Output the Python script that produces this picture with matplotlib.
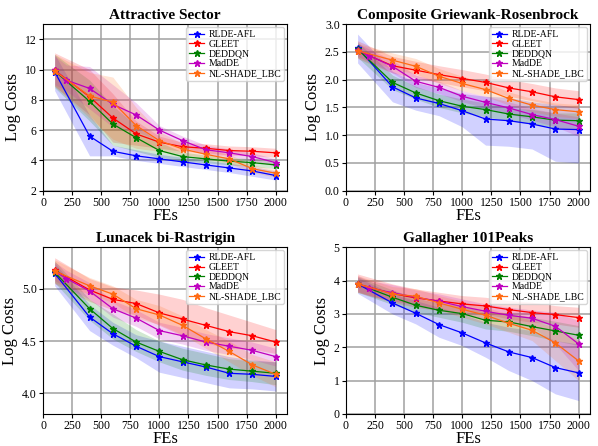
import matplotlib

matplotlib.use('Agg')
import matplotlib.pyplot as plt

plt.rcParams['font.family'] = ['Liberation Serif', 'DejaVu Serif']
plt.rcParams['mathtext.fontset'] = 'stix'

METHODS = ['RLDE-AFL', 'GLEET', 'DEDDQN', 'MadDE', 'NL-SHADE_LBC']
COLORS = ['blue', 'red', 'green', 'm', '#ff6a13']
FES = [100, 400, 600, 800, 1000, 1200, 1400, 1600, 1800, 2000]
FES_MAD = [100, 200, 400, 600, 800, 1000, 1200, 1400, 1600, 1800, 2000]  # MadDE logs one extra point

# --- Attractive Sector -------------------------------------------------------
as_mean = [
    [9.85, 5.6, 4.6, 4.3, 4.1, 3.9, 3.7, 3.5, 3.3, 3.0],
    [9.95, 8.2, 6.8, 5.75, 5.2, 4.9, 4.8, 4.65, 4.6, 4.5],
    [9.9, 7.9, 6.4, 5.5, 4.65, 4.25, 4.1, 3.95, 3.85, 3.7],
    [9.95, 9.3, 8.75, 7.7, 7.0, 6.0, 5.3, 4.7, 4.5, 4.25, 3.85],
    [9.9, 8.25, 7.85, 6.3, 5.3, 4.75, 4.4, 4.1, 3.45, 3.15],
]
as_lo = [
    [8.6, 4.3, 4.3, 4.0, 3.8, 3.6, 3.4, 3.2, 2.95, 2.7],
    [8.9, 7.0, 5.2, 5.0, 4.8, 4.6, 4.5, 4.35, 4.3, 4.2],
    [8.8, 6.6, 5.0, 4.6, 4.2, 3.95, 3.85, 3.7, 3.6, 3.45],
    [9.0, 8.6, 7.4, 6.2, 5.9, 5.3, 4.9, 4.4, 4.25, 4.0, 3.6],
    [8.9, 6.8, 5.4, 4.8, 4.6, 4.4, 4.1, 3.8, 3.2, 2.9],
]
as_hi = [
    [11.0, 7.0, 5.0, 4.7, 4.4, 4.2, 4.0, 3.8, 3.6, 3.3],
    [11.1, 10.0, 8.4, 6.6, 5.6, 5.2, 5.1, 4.95, 4.9, 4.8],
    [11.0, 9.3, 7.6, 6.3, 5.2, 4.55, 4.35, 4.2, 4.1, 3.95],
    [10.9, 10.3, 10.2, 9.0, 7.8, 6.3, 5.6, 5.0, 4.75, 4.5, 4.1],
    [11.0, 9.8, 9.5, 7.5, 5.9, 5.1, 4.7, 4.4, 3.7, 3.4],
]

# --- Composite Griewank-Rosenbrock -------------------------------------------
cg_mean = [
    [2.57, 1.87, 1.67, 1.57, 1.44, 1.29, 1.26, 1.20, 1.11, 1.10],
    [2.52, 2.25, 2.17, 2.09, 2.02, 1.95, 1.85, 1.78, 1.69, 1.64],
    [2.55, 1.95, 1.76, 1.62, 1.52, 1.46, 1.38, 1.33, 1.27, 1.26],
    [2.53, 2.43, 2.24, 1.97, 1.86, 1.70, 1.59, 1.49, 1.37, 1.28, 1.16],
    [2.52, 2.35, 2.24, 2.06, 1.93, 1.82, 1.66, 1.54, 1.46, 1.42],
]
cg_lo = [
    [2.30, 1.60, 1.45, 1.35, 1.15, 0.82, 0.80, 0.75, 0.53, 0.50],
    [2.38, 2.12, 2.03, 1.95, 1.87, 1.80, 1.70, 1.62, 1.54, 1.48],
    [2.40, 1.82, 1.65, 1.50, 1.40, 1.33, 1.26, 1.20, 1.13, 1.10],
    [2.42, 2.33, 2.12, 1.86, 1.75, 1.60, 1.49, 1.39, 1.27, 1.15, 0.98],
    [2.40, 2.20, 2.10, 1.93, 1.80, 1.70, 1.54, 1.42, 1.34, 1.30],
]
cg_hi = [
    [2.82, 2.15, 1.95, 1.85, 1.75, 1.70, 1.68, 1.60, 1.55, 1.50],
    [2.70, 2.42, 2.33, 2.25, 2.18, 2.10, 2.00, 1.93, 1.85, 1.80],
    [2.68, 2.08, 1.88, 1.74, 1.65, 1.58, 1.50, 1.46, 1.40, 1.40],
    [2.65, 2.55, 2.35, 2.08, 1.97, 1.80, 1.70, 1.60, 1.48, 1.40, 1.33],
    [2.65, 2.48, 2.38, 2.20, 2.06, 1.95, 1.78, 1.66, 1.58, 1.55],
]

# --- Lunacek bi-Rastrigin ----------------------------------------------------
lb_mean = [
    [5.15, 4.73, 4.57, 4.45, 4.35, 4.30, 4.25, 4.19, 4.18, 4.16],
    [5.18, 4.99, 4.90, 4.86, 4.77, 4.71, 4.65, 4.59, 4.55, 4.49],
    [5.16, 4.81, 4.62, 4.49, 4.40, 4.32, 4.27, 4.23, 4.21, 4.19],
    [5.17, 5.10, 4.98, 4.81, 4.72, 4.60, 4.55, 4.49, 4.45, 4.41, 4.35],
    [5.17, 5.03, 4.95, 4.81, 4.75, 4.65, 4.52, 4.40, 4.27, 4.18],
]
lb_lo = [
    [5.03, 4.60, 4.46, 4.34, 4.20, 4.15, 4.10, 4.05, 4.04, 4.02],
    [5.05, 4.88, 4.80, 4.75, 4.65, 4.55, 4.48, 4.43, 4.42, 4.38],
    [5.06, 4.70, 4.52, 4.40, 4.30, 4.22, 4.17, 4.13, 4.11, 4.08],
    [5.08, 5.02, 4.90, 4.73, 4.64, 4.52, 4.47, 4.41, 4.37, 4.32, 4.26],
    [5.06, 4.95, 4.87, 4.72, 4.66, 4.56, 4.43, 4.30, 4.17, 4.06],
]
lb_hi = [
    [5.25, 4.85, 4.68, 4.56, 4.50, 4.45, 4.40, 4.35, 4.32, 4.30],
    [5.30, 5.10, 5.02, 4.99, 4.95, 4.90, 4.82, 4.75, 4.68, 4.61],
    [5.27, 4.90, 4.76, 4.61, 4.50, 4.43, 4.38, 4.33, 4.31, 4.30],
    [5.26, 5.18, 5.06, 4.89, 4.80, 4.68, 4.63, 4.57, 4.53, 4.49, 4.43],
    [5.28, 5.11, 5.03, 4.90, 4.84, 4.74, 4.61, 4.50, 4.37, 4.30],
]

# --- Gallagher 101Peaks ------------------------------------------------------
gp_mean = [
    [3.90, 3.33, 3.02, 2.68, 2.43, 2.13, 1.86, 1.69, 1.39, 1.23],
    [3.90, 3.61, 3.48, 3.39, 3.30, 3.24, 3.13, 3.04, 2.98, 2.89],
    [3.90, 3.50, 3.26, 3.11, 3.01, 2.81, 2.76, 2.62, 2.49, 2.36],
    [3.90, 3.77, 3.64, 3.50, 3.38, 3.22, 3.08, 2.96, 2.87, 2.63, 2.10],
    [3.90, 3.60, 3.53, 3.33, 3.14, 2.96, 2.72, 2.51, 2.13, 1.59],
]
gp_lo = [
    [3.62, 3.00, 2.70, 2.30, 2.05, 1.70, 1.30, 1.00, 0.60, 0.40],
    [3.65, 3.35, 3.20, 3.10, 3.05, 3.00, 2.85, 2.75, 2.70, 2.60],
    [3.65, 3.28, 3.05, 2.90, 2.75, 2.55, 2.48, 2.35, 2.20, 2.05],
    [3.68, 3.55, 3.40, 3.28, 3.15, 3.00, 2.85, 2.72, 2.60, 2.10, 1.30],
    [3.65, 3.38, 3.30, 3.10, 2.90, 2.70, 2.45, 2.20, 1.60, 1.00],
]
gp_hi = [
    [4.10, 3.60, 3.40, 3.20, 3.00, 2.75, 2.60, 2.50, 2.20, 2.10],
    [4.20, 3.90, 3.75, 3.65, 3.55, 3.50, 3.40, 3.35, 3.25, 3.20],
    [4.12, 3.72, 3.48, 3.32, 3.25, 3.05, 3.02, 2.90, 2.78, 2.65],
    [4.15, 4.00, 3.88, 3.72, 3.60, 3.45, 3.30, 3.20, 3.12, 3.05, 2.80],
    [4.15, 3.82, 3.76, 3.55, 3.38, 3.20, 3.00, 2.80, 2.60, 2.20],
]

PANELS = [
    ('Attractive Sector', as_mean, as_lo, as_hi, (2, 13), [2, 4, 6, 8, 10, 12]),
    ('Composite Griewank-Rosenbrock', cg_mean, cg_lo, cg_hi, (0, 3.0),
     [0.0, 0.5, 1.0, 1.5, 2.0, 2.5, 3.0]),
    ('Lunacek bi-Rastrigin', lb_mean, lb_lo, lb_hi, (3.8, 5.4), [4.0, 4.5, 5.0]),
    ('Gallagher 101Peaks', gp_mean, gp_lo, gp_hi, (0, 5), [0, 1, 2, 3, 4, 5]),
]

fig, axes = plt.subplots(2, 2, figsize=(5.98, 4.46), dpi=100)
for ax, (title, mean, lo, hi, ylim, yticks) in zip(axes.flat, PANELS):
    for i, name in enumerate(METHODS):
        xs = FES_MAD if name == 'MadDE' else FES
        ax.fill_between(xs, lo[i], hi[i], color=COLORS[i], alpha=0.18, lw=0)
        ax.plot(xs, mean[i], color=COLORS[i], marker='*', ms=5, lw=0.9,
                label=name)
    ax.set_title(title, fontsize=11, fontweight='bold', pad=4)
    ax.set_xlim(0, 2100)
    ax.set_xticks([0, 250, 500, 750, 1000, 1250, 1500, 1750, 2000])
    ax.set_ylim(*ylim)
    ax.set_yticks(yticks)
    if title == 'Lunacek bi-Rastrigin':
        ax.set_yticklabels([f'{t:.1f}' for t in yticks])
    ax.tick_params(labelsize=8.5, length=3, pad=1.5)
    ax.grid(True, color='#a0a0a0', lw=1.1)
    ax.set_axisbelow(True)
    ax.set_xlabel('FEs', fontsize=12, labelpad=-1)
    ax.set_ylabel('Log Costs', fontsize=12, labelpad=3)
    ax.legend(loc='upper right', fontsize=7, handlelength=1.5,
              handletextpad=0.5, borderpad=0.3, labelspacing=0.08,
              borderaxespad=0.3, framealpha=0.8)

fig.subplots_adjust(left=0.072, right=0.987, top=0.946, bottom=0.072,
                    wspace=0.24, hspace=0.34)
fig.savefig('out.png', dpi=100)
